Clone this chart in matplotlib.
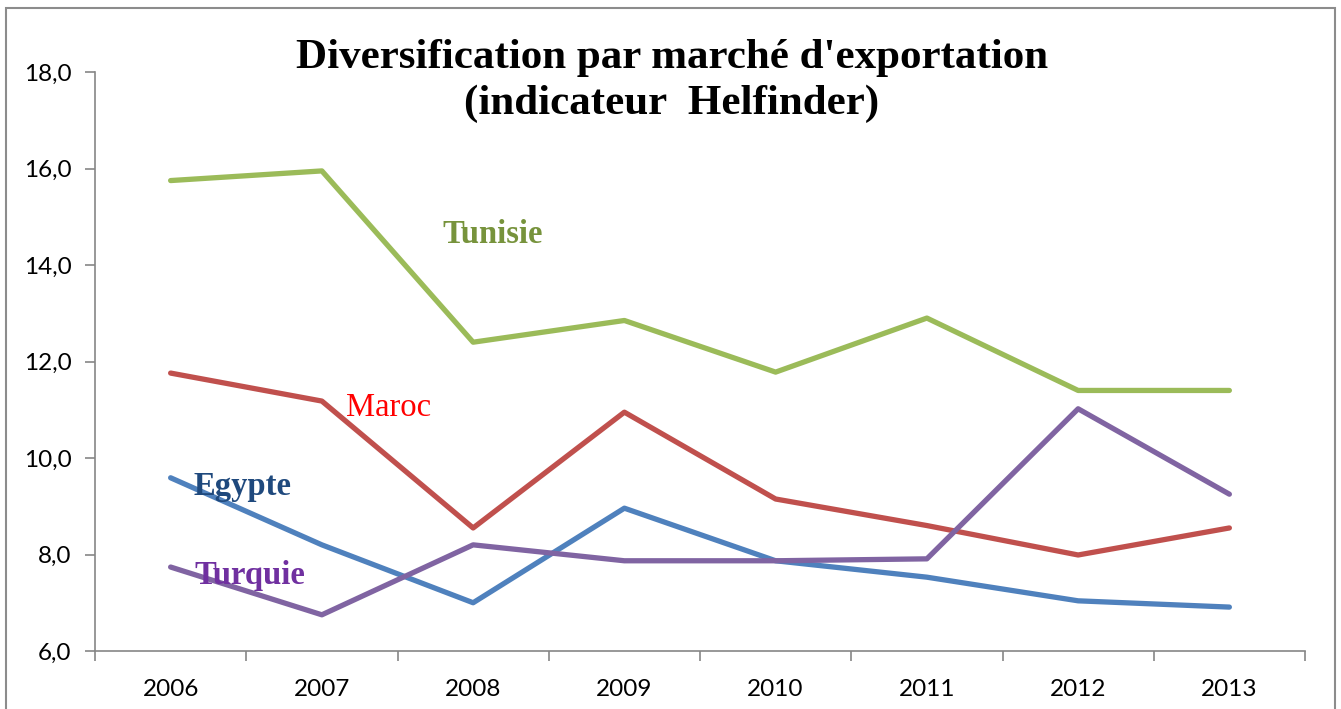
import matplotlib
matplotlib.use('Agg')
import matplotlib.pyplot as plt
from matplotlib.patches import Rectangle

# ---- Data ----
years = ['2006', '2007', '2008', '2009', '2010', '2011', '2012', '2013']
tunisie = [15.75, 15.95, 12.40, 12.85, 11.78, 12.90, 11.40, 11.40]
maroc = [11.76, 11.18, 8.55, 10.95, 9.15, 8.60, 7.99, 8.55]
egypte = [9.59, 8.20, 7.00, 8.96, 7.87, 7.53, 7.04, 6.91]
turquie = [7.74, 6.75, 8.20, 7.87, 7.87, 7.91, 11.02, 9.25]
y_ticks = [6, 8, 10, 12, 14, 16, 18]

fig = plt.figure(figsize=(13.41, 7.09), dpi=100)
ax = fig.add_axes([95/1341, 1 - 651/709, 1210/1341, 579/709])

# outer chart frame (bottom runs off the image)
fig.patches.append(Rectangle((6/1341, -0.05), 1329/1341, 1.05 - 8/709,
                             transform=fig.transFigure, fill=False,
                             edgecolor='#8c8c8c', linewidth=1.5))

x = range(len(years))
kw = dict(linewidth=3.8, solid_capstyle='round', solid_joinstyle='round')
ax.plot(x, tunisie, color='#9BBB59', **kw)
ax.plot(x, maroc, color='#C0504D', **kw)
ax.plot(x, egypte, color='#4F81BD', **kw)
ax.plot(x, turquie, color='#8064A2', **kw)

ax.set_xlim(-0.5, len(years) - 0.5)
ax.set_ylim(6, 18)
ax.set_yticks(y_ticks)
ax.set_yticklabels([f'{v:.1f}'.replace('.', ',') for v in y_ticks])
ax.set_xticks([i - 0.5 for i in range(len(years) + 1)])
ax.set_xticklabels([])
ax.set_xticks(list(x), minor=True)
ax.set_xticklabels(years, minor=True)
ax.tick_params(axis='x', which='minor', length=0, pad=20)
ax.tick_params(axis='x', which='major', length=7, color='#868686', width=1.2)
ax.tick_params(axis='y', length=7, color='#868686', width=1.2, pad=10)
for lab in ax.get_xticklabels(minor=True) + ax.get_yticklabels():
    lab.set_fontfamily('Lato')
    lab.set_fontsize(17.5)
for s in ['top', 'right']:
    ax.spines[s].set_visible(False)
for s in ['left', 'bottom']:
    ax.spines[s].set_color('#868686')
    ax.spines[s].set_linewidth(1.2)

# title
fig.text(672/1341, 1 - 58/709, "Diversification par marché d'exportation",
         ha='center', va='center', fontfamily='Liberation Serif',
         fontweight='bold', fontsize=31)
fig.text(672/1341, 1 - 104/709, "(indicateur  Helfinder)",
         ha='center', va='center', fontfamily='Liberation Serif',
         fontweight='bold', fontsize=31)

# series labels
lab = dict(fontfamily='Liberation Serif', fontsize=23.5, va='center', ha='left')
ax.text(1.80, 14.63, 'Tunisie', color='#77933C', fontweight='bold', **lab)
ax.text(1.16, 11.05, 'Maroc', color='#FF0000', **lab)
ax.text(0.148, 9.40, 'Egypte', color='#1F497D', fontweight='bold', **lab)
ax.text(0.16, 7.57, 'Turquie', color='#7030A0', fontweight='bold', **lab)

fig.savefig('out.png', dpi=100)
